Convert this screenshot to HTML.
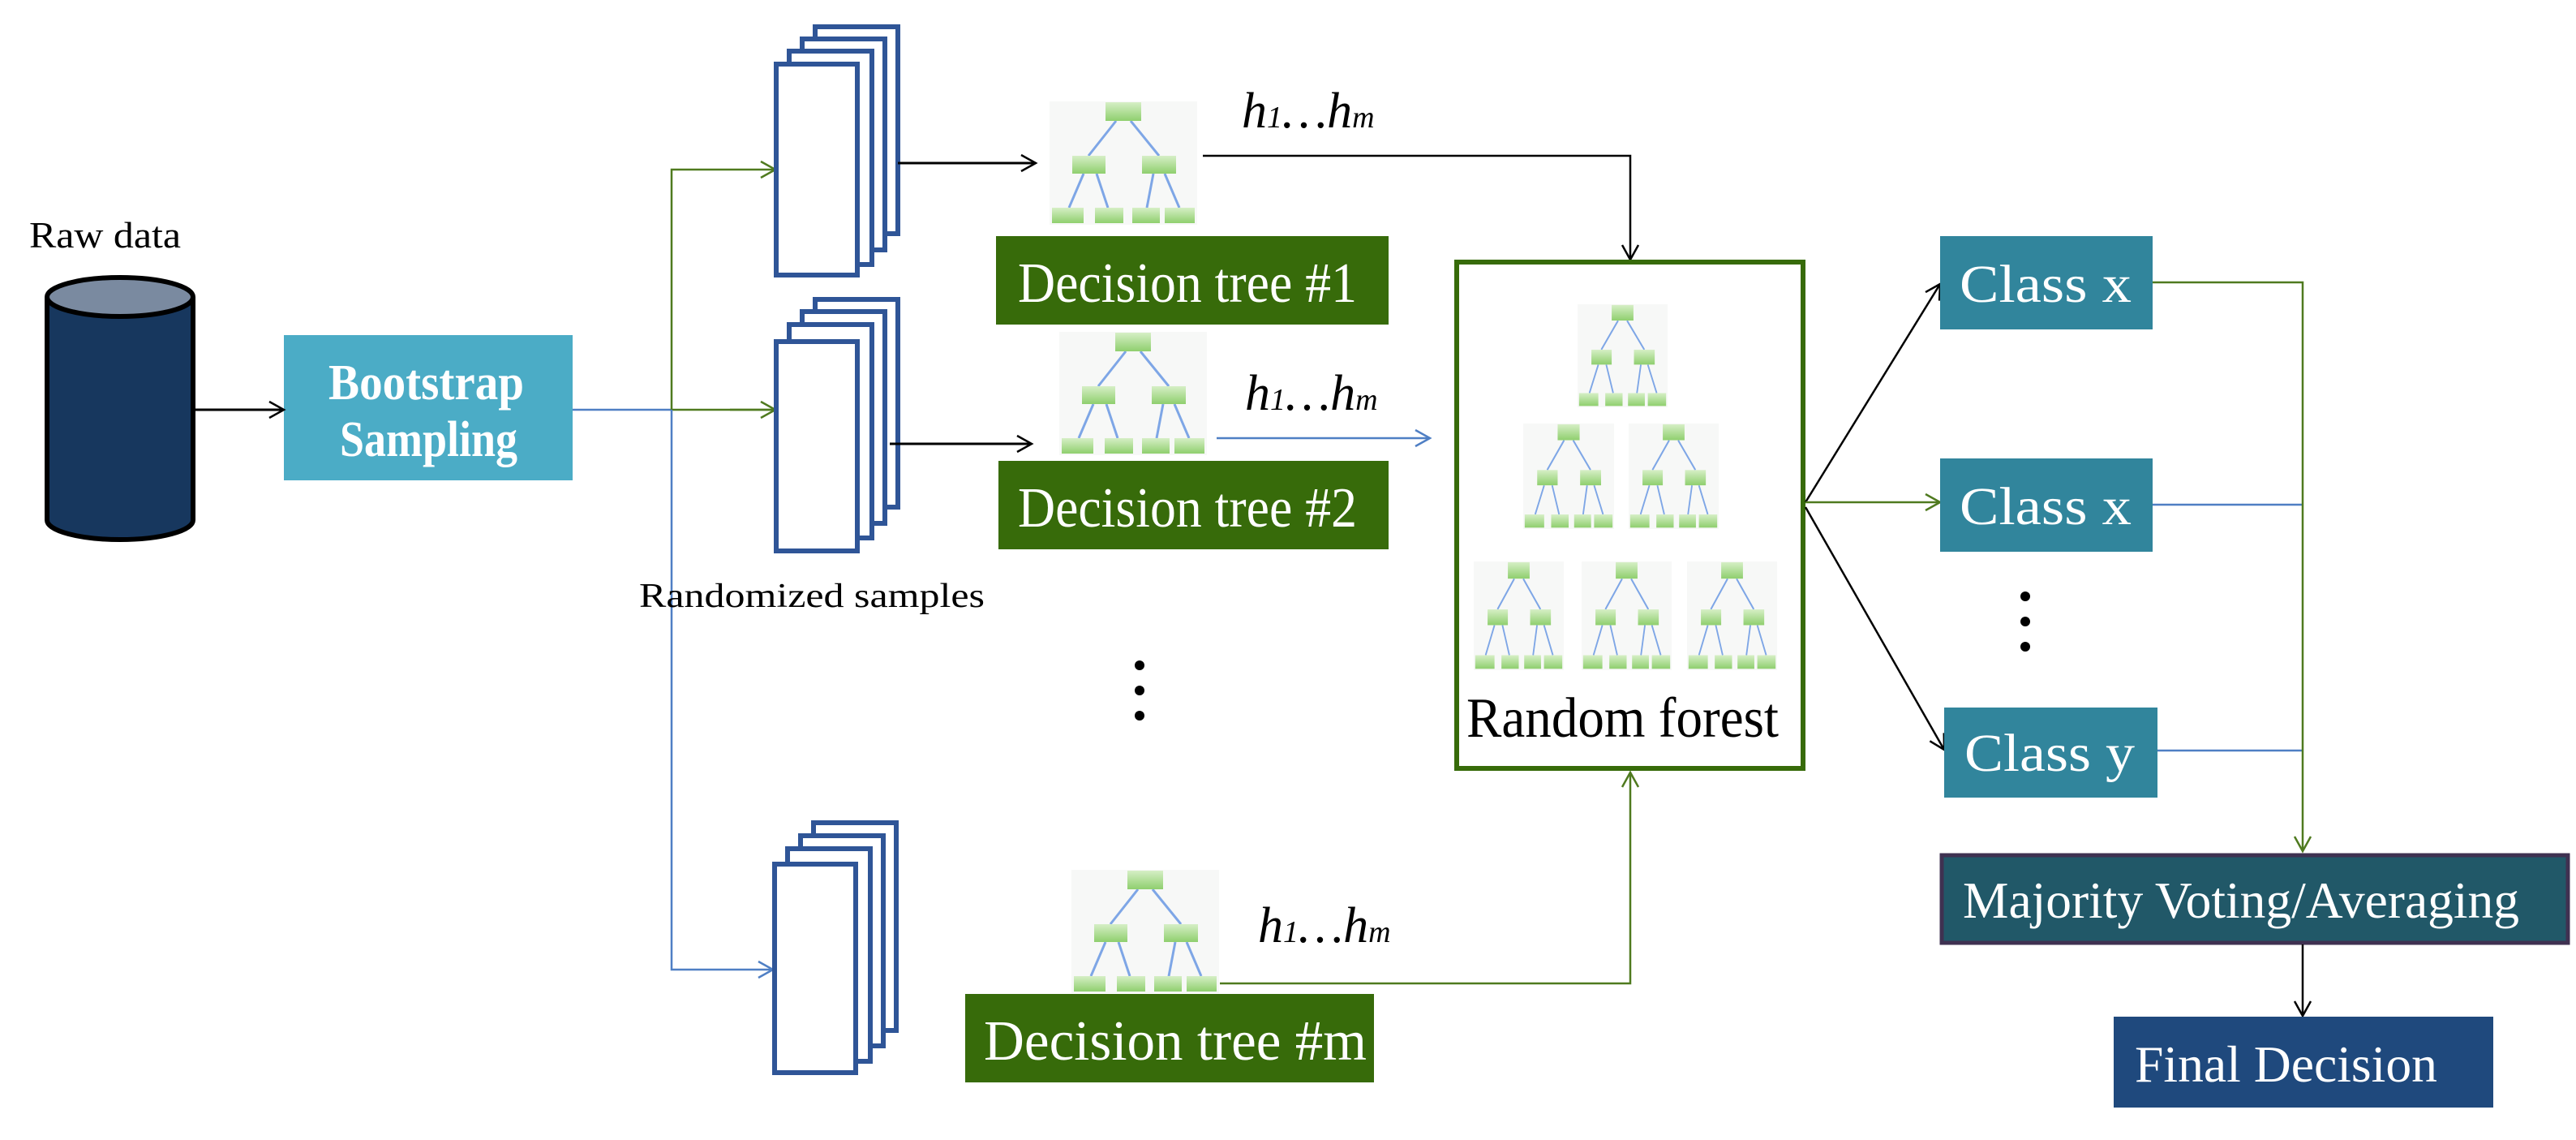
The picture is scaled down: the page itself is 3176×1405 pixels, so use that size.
<!DOCTYPE html>
<html><head><meta charset="utf-8"><style>
html,body{margin:0;padding:0;background:#fff;}
text{font-family:"Liberation Serif","Times New Roman",serif;}
</style></head><body>
<svg width="3176" height="1400" viewBox="0 0 3176 1400" xmlns="http://www.w3.org/2000/svg" font-family="Liberation Serif, serif">
<defs>
<linearGradient id="g" x1="0" y1="0" x2="0" y2="1"><stop offset="0" stop-color="#d6efc6"/><stop offset="1" stop-color="#8fcf6e"/></linearGradient>
<symbol id="tree" viewBox="0 0 182 152" preserveAspectRatio="none">
<rect x="0" y="0" width="182" height="152" fill="#f7f8f7"/>
<g stroke="#7ea6e6" stroke-width="3" fill="none">
<line x1="82" y1="24" x2="48" y2="67"/><line x1="100" y1="24" x2="135" y2="67"/>
<line x1="42" y1="89" x2="24" y2="131"/><line x1="58" y1="89" x2="72" y2="131"/>
<line x1="128" y1="89" x2="120" y2="131"/><line x1="142" y1="89" x2="160" y2="131"/>
</g>
<g fill="url(#g)">
<rect x="69" y="1" width="44" height="23"/>
<rect x="28" y="67" width="41" height="22"/><rect x="114" y="67" width="42" height="22"/>
<rect x="3" y="131" width="39" height="19"/><rect x="56" y="131" width="35" height="19"/><rect x="102" y="131" width="34" height="19"/><rect x="142" y="131" width="37" height="19"/>
</g>
</symbol>
<marker id="ab" markerWidth="24" markerHeight="24" refX="20" refY="12" orient="auto" markerUnits="userSpaceOnUse"><path d="M2,2 L20,12 L2,22" fill="none" stroke="#000" stroke-width="2.5"/></marker>
<marker id="ag" markerWidth="24" markerHeight="24" refX="20" refY="12" orient="auto" markerUnits="userSpaceOnUse"><path d="M2,2 L20,12 L2,22" fill="none" stroke="#4f7a1f" stroke-width="2.5"/></marker>
<marker id="au" markerWidth="24" markerHeight="24" refX="20" refY="12" orient="auto" markerUnits="userSpaceOnUse"><path d="M2,2 L20,12 L2,22" fill="none" stroke="#4f7fc4" stroke-width="2.5"/></marker>
</defs>

<!-- Raw data -->
<text x="36" y="305" font-size="46" textLength="187" lengthAdjust="spacingAndGlyphs">Raw data</text>
<path d="M58,366 L58,641 A90,24 0 0 0 238,641 L238,366" fill="#17375e" stroke="#000" stroke-width="6"/>
<ellipse cx="148" cy="366" rx="90" ry="24" fill="#7a8aa0" stroke="#000" stroke-width="6"/>

<!-- Bootstrap -->
<rect x="350" y="413" width="356" height="179" fill="#4bacc6"/>
<text x="405" y="492" font-size="62" font-weight="bold" fill="#fff" textLength="241" lengthAdjust="spacingAndGlyphs">Bootstrap</text>
<text x="419" y="562" font-size="62" font-weight="bold" fill="#fff" textLength="219" lengthAdjust="spacingAndGlyphs">Sampling</text>
<line x1="240" y1="505" x2="350" y2="505" stroke="#000" stroke-width="3" marker-end="url(#ab)"/>

<!-- distribution lines -->
<line x1="706" y1="505" x2="828" y2="505" stroke="#4f7fc4" stroke-width="2.5"/>
<polyline points="955,209 828,209 828,505 955,505" fill="none" stroke="#4f7a1f" stroke-width="2.5"/>
<line x1="955" y1="209" x2="956" y2="209" stroke="#4f7a1f" stroke-width="2.5" marker-end="url(#ag)"/>
<line x1="900" y1="505" x2="956" y2="505" stroke="#4f7a1f" stroke-width="2.5" marker-end="url(#ag)"/>
<polyline points="828,505 828,1195 953,1195" fill="none" stroke="#4f7fc4" stroke-width="2.5" marker-end="url(#au)"/>

<!-- stacks -->
<g fill="#fff" stroke="#2f5597" stroke-width="6">
<rect x="1005" y="33" width="102" height="255"/><rect x="989" y="48" width="102" height="260"/><rect x="973" y="63" width="102" height="263"/><rect x="957" y="79" width="100" height="260"/>
<rect x="1005" y="369" width="102" height="256"/><rect x="989" y="384" width="102" height="261"/><rect x="973" y="400" width="102" height="263"/><rect x="957" y="421" width="100" height="258"/>
<rect x="1003" y="1014" width="102" height="256"/><rect x="987" y="1030" width="102" height="259"/><rect x="971" y="1046" width="102" height="262"/><rect x="955" y="1065" width="100" height="257"/>
</g>
<text x="788" y="748" font-size="42" textLength="426" lengthAdjust="spacingAndGlyphs">Randomized samples</text>

<!-- stack to tree arrows -->
<line x1="1107" y1="201" x2="1277" y2="201" stroke="#000" stroke-width="3" marker-end="url(#ab)"/>
<line x1="1097" y1="547" x2="1272" y2="547" stroke="#000" stroke-width="3" marker-end="url(#ab)"/>

<!-- trees -->
<use href="#tree" x="1294" y="125" width="182" height="152"/>
<use href="#tree" x="1306" y="409" width="182" height="152"/>
<use href="#tree" x="1321" y="1072" width="182" height="152"/>

<!-- decision tree boxes -->
<rect x="1228" y="291" width="484" height="109" fill="#376b0a"/>
<text x="1255" y="372" font-size="70" fill="#fff" textLength="418" lengthAdjust="spacingAndGlyphs">Decision tree #1</text>
<rect x="1231" y="568" width="481" height="109" fill="#376b0a"/>
<text x="1255" y="649" font-size="70" fill="#fff" textLength="418" lengthAdjust="spacingAndGlyphs">Decision tree #2</text>
<rect x="1190" y="1225" width="504" height="109" fill="#376b0a"/>
<text x="1213" y="1306" font-size="70" fill="#fff" textLength="472" lengthAdjust="spacingAndGlyphs">Decision tree #m</text>

<g fill="#000"><circle cx="1405" cy="820" r="6"/><circle cx="1405" cy="851" r="6"/><circle cx="1405" cy="882" r="6"/></g>

<!-- h labels -->
<text x="1531" y="157" font-size="62" font-style="italic">h<tspan font-size="38">1</tspan>…h<tspan font-size="38">m</tspan></text>
<text x="1535" y="505" font-size="62" font-style="italic">h<tspan font-size="38">1</tspan>…h<tspan font-size="38">m</tspan></text>
<text x="1551" y="1161" font-size="62" font-style="italic">h<tspan font-size="38">1</tspan>…h<tspan font-size="38">m</tspan></text>

<polyline points="1483,192 2010,192 2010,320" fill="none" stroke="#000" stroke-width="2.5" marker-end="url(#ab)"/>
<line x1="1500" y1="540" x2="1763" y2="540" stroke="#4f7fc4" stroke-width="2.5" marker-end="url(#au)"/>
<polyline points="1504,1212 2010,1212 2010,952" fill="none" stroke="#4f7a1f" stroke-width="2.5" marker-end="url(#ag)"/>

<!-- Random forest -->
<rect x="1796" y="323" width="427" height="624" fill="#fff" stroke="#376b0a" stroke-width="6"/>
<use href="#tree" x="1945" y="375" width="111" height="127"/>
<use href="#tree" x="1878" y="522" width="112" height="130"/>
<use href="#tree" x="2008" y="522" width="111" height="130"/>
<use href="#tree" x="1817" y="692" width="111" height="134"/>
<use href="#tree" x="1950" y="692" width="111" height="134"/>
<use href="#tree" x="2080" y="692" width="111" height="134"/>
<text x="1808" y="908" font-size="70" textLength="385" lengthAdjust="spacingAndGlyphs">Random forest</text>

<!-- classes -->
<line x1="2226" y1="619" x2="2392" y2="350" stroke="#000" stroke-width="2.5" marker-end="url(#ab)"/>
<line x1="2226" y1="619" x2="2392" y2="619" stroke="#4f7a1f" stroke-width="2.5" marker-end="url(#ag)"/>
<line x1="2226" y1="625" x2="2397" y2="924" stroke="#000" stroke-width="2.5" marker-end="url(#ab)"/>
<rect x="2392" y="291" width="262" height="115" fill="#31859c"/>
<text x="2416" y="372" font-size="66" fill="#fff" textLength="212" lengthAdjust="spacingAndGlyphs">Class x</text>
<rect x="2392" y="565" width="262" height="115" fill="#31859c"/>
<text x="2416" y="646" font-size="66" fill="#fff" textLength="212" lengthAdjust="spacingAndGlyphs">Class x</text>
<rect x="2397" y="872" width="263" height="111" fill="#31859c"/>
<text x="2422" y="950" font-size="66" fill="#fff" textLength="210" lengthAdjust="spacingAndGlyphs">Class y</text>
<g fill="#000"><circle cx="2497" cy="735" r="6"/><circle cx="2497" cy="766" r="6"/><circle cx="2497" cy="797" r="6"/></g>

<line x1="2654" y1="622" x2="2839" y2="622" stroke="#4f7fc4" stroke-width="2.5"/>
<line x1="2660" y1="925" x2="2839" y2="925" stroke="#4f7fc4" stroke-width="2.5"/>
<polyline points="2654,348 2839,348 2839,1049" fill="none" stroke="#4f7a1f" stroke-width="2.5" marker-end="url(#ag)"/>

<rect x="2394" y="1054" width="772" height="108" fill="#215868" stroke="#3f3151" stroke-width="5"/>
<text x="2420" y="1131" font-size="64" fill="#fff" textLength="686" lengthAdjust="spacingAndGlyphs">Majority Voting/Averaging</text>
<line x1="2839" y1="1164" x2="2839" y2="1252" stroke="#000" stroke-width="2.5" marker-end="url(#ab)"/>
<rect x="2606" y="1253" width="468" height="112" fill="#1f497d"/>
<text x="2632" y="1333" font-size="64" fill="#fff" textLength="373" lengthAdjust="spacingAndGlyphs">Final Decision</text>
</svg>
</body></html>
